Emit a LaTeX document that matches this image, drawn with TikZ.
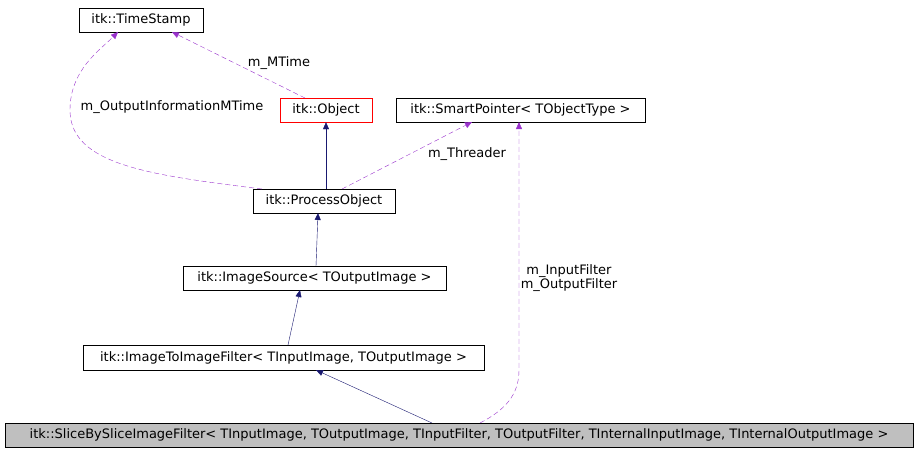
\documentclass[tikz,border=0pt]{standalone}
\usepackage{fontspec}
\setmainfont{DejaVu Sans}
\usetikzlibrary{arrows.meta}
\begin{document}
\begin{tikzpicture}[x=1pt,y=-1pt,
  box/.style={draw=black,fill=white,inner sep=0pt,font=\fontsize{13}{15}\selectfont,anchor=center},
  inh/.style={draw={rgb,255:red,25;green,25;blue,112},-{Triangle[length=7pt,width=6pt]}},
  use/.style={draw={rgb,255:red,153;green,50;blue,204},dash pattern=on 5pt off 3pt,-{Triangle[length=7pt,width=6pt]}},
  lab/.style={font=\fontsize{13}{14.5}\selectfont,inner sep=0pt,align=center}]
\useasboundingbox (0,0) rectangle (920,453);
\node[box,minimum width=124,minimum height=24] (ts) at (141,20) {itk::TimeStamp};
\node[box,draw=red,minimum width=92,minimum height=24] (obj) at (326,110) {itk::Object};
\node[box,minimum width=249,minimum height=24] (sp) at (520.5,110) {itk::SmartPointer< TObjectType >};
\node[box,minimum width=142,minimum height=24] (po) at (324,201) {itk::ProcessObject};
\node[box,minimum width=263,minimum height=24] (is) at (314.5,278) {itk::ImageSource< TOutputImage >};
\node[box,minimum width=401,minimum height=25] (iti) at (283.5,357.5) {itk::ImageToImageFilter< TInputImage, TOutputImage >};
\node[box,fill={rgb,255:red,191;green,191;blue,191},minimum width=908,minimum height=24] (sl) at (459,435) {itk::SliceBySliceImageFilter< TInputImage, TOutputImage, TInputFilter, TOutputFilter, TInternalInputImage, TInternalOutputImage >};
\draw[inh] (po.north -| obj.south) -- (obj.south);
\draw[inh] (316,266) -- (318,213);
\draw[inh] (288,345) -- (300,290);
\draw[inh] (432,423) -- (316,370);
\draw[use] (305,98) -- (172,32);
\node[lab] (l1) at (279,63) {m\_MTime};
\draw[use] (262,189) .. controls (150,175) and (70,165) .. (70,110) .. controls (70,70) and (100,50) .. (118,32);
\node[lab] (l2) at (172,107) {m\_OutputInformationMTime};
\draw[use] (342,189) -- (472,122);
\node[lab] (l3) at (467,154) {m\_Threader};
\draw[use] (480,423) .. controls (505,410) and (519,395) .. (519,370) -- (519,122);
\node[lab] (l4) at (569,278) {m\_InputFilter\\m\_OutputFilter};
\end{tikzpicture}
\end{document}
